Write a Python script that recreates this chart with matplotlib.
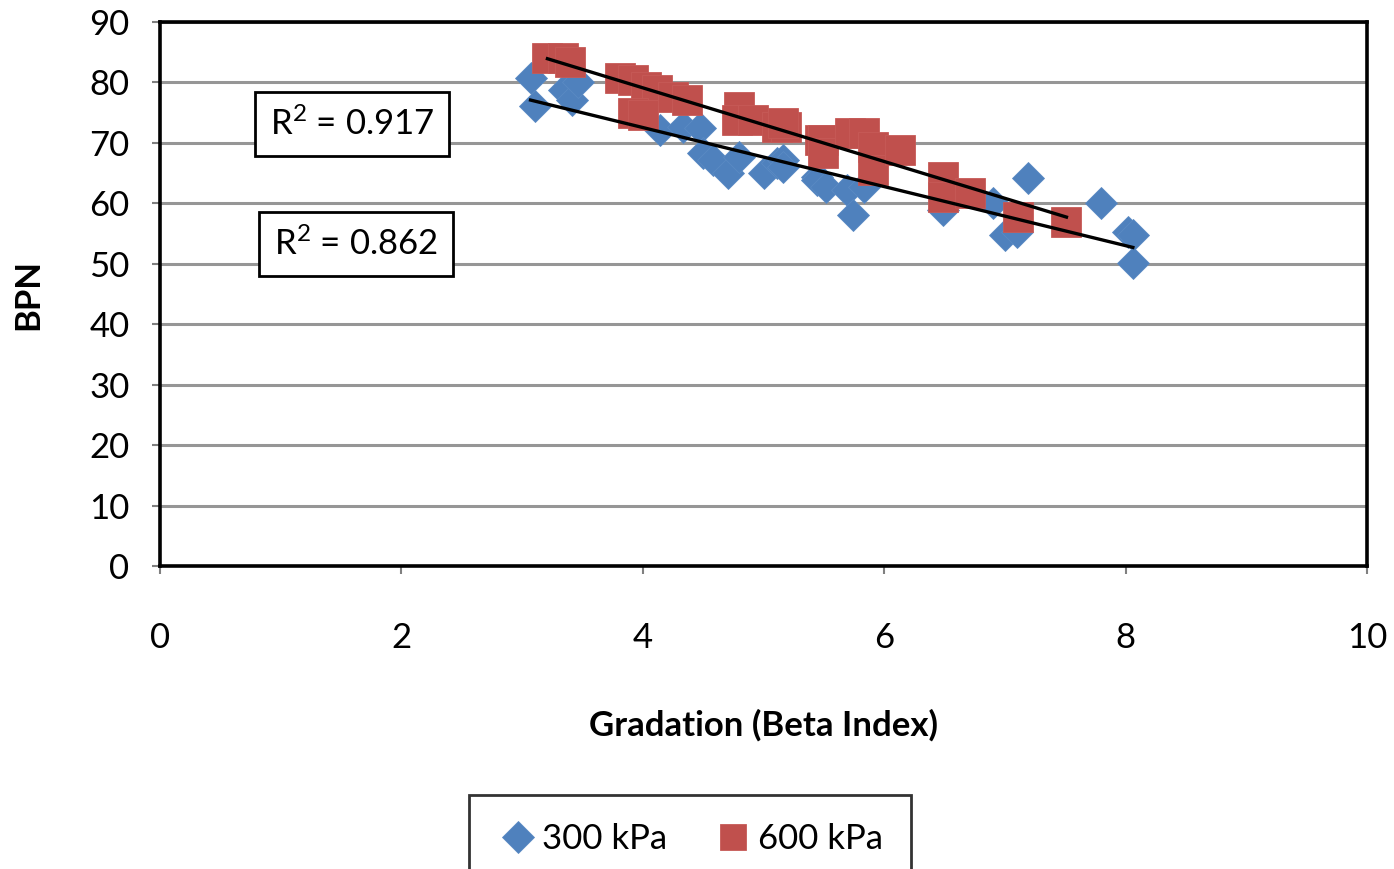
import numpy as np
import matplotlib
matplotlib.use('Agg')
from matplotlib import pyplot as plt

# 300 kPa series (Beta index, BPN)
beta_300 = [3.07, 3.11, 3.35, 3.41, 3.46, 4.14, 4.33, 4.47, 4.50, 4.58, 4.71, 4.80,
            5.00, 5.11, 5.16, 5.44, 5.16, 5.44, 5.52, 5.69, 5.83, 5.74, 6.49, 6.90,
            7.19, 7.00, 7.10, 7.80, 8.02, 8.06, 8.06]
bpn_300 = [80.7, 76.1, 78.8, 77.1, 80.1, 72.1, 72.6, 72.5, 68.3, 67.2, 65.0, 67.7,
           65.0, 66.7, 67.2, 64.4, 66.0, 63.9, 62.7, 62.2, 62.7, 58.1, 58.9, 60.1,
           64.2, 54.8, 55.3, 60.1, 55.3, 54.8, 50.1]

# 600 kPa series
beta_600 = [3.21, 3.34, 3.40, 3.81, 3.92, 4.03, 4.12, 3.92, 4.00, 4.25, 4.37, 4.80,
            4.78, 4.91, 5.11, 5.19, 5.47, 5.16, 5.49, 5.49, 5.72, 5.83, 5.91, 5.91,
            6.13, 6.49, 6.49, 6.71, 7.11, 7.51]
bpn_600 = [84.0, 84.0, 83.4, 80.7, 80.4, 79.3, 78.8, 75.0, 74.6, 77.6, 77.1, 75.9,
           73.8, 73.8, 72.6, 72.6, 70.5, 73.3, 70.5, 68.3, 71.6, 71.6, 69.3, 65.5,
           68.8, 64.4, 61.1, 61.7, 57.7, 56.9]

r2_labels = ['R$^{2}$ = 0.917', 'R$^{2}$ = 0.862']

blue = '#4F81BD'
red = '#C0504D'

plt.rcParams['font.family'] = ['Lato', 'DejaVu Sans']
plt.rcParams['mathtext.fontset'] = 'custom'
plt.rcParams['mathtext.rm'] = 'Lato'
plt.rcParams['mathtext.default'] = 'regular'

fig = plt.figure(figsize=(13.94, 8.69), dpi=100)
ax = fig.add_axes([160/1394, 1 - 566/869, (1367-160)/1394, (566-22)/869])

ax.plot(beta_300, bpn_300, linestyle='none', marker='D', markersize=16,
        color=blue, markeredgecolor='#5a8ac3', markeredgewidth=0.6, label='300 kPa', zorder=3)
ax.plot(beta_600, bpn_600, linestyle='none', marker='s', markersize=21.5,
        color=red, markeredgecolor='#c65a57', markeredgewidth=0.6, label='600 kPa', zorder=4)

# linear trendlines
for xs, ys in [(beta_300, bpn_300), (beta_600, bpn_600)]:
    xs = np.array(xs)
    m, b = np.polyfit(xs, ys, 1)
    xl = np.array([xs.min(), xs.max()])
    ax.plot(xl, m*xl + b, color='black', lw=2.4, zorder=5)

ax.set_xlim(0, 10)
ax.set_ylim(0, 90)
ax.set_xticks(range(0, 11, 2))
ax.set_yticks(range(0, 91, 10))
ax.grid(axis='y', color='#969696', lw=2.2)
ax.set_axisbelow(True)
for s in ax.spines.values():
    s.set_linewidth(2.6)
    s.set_color('black')
ax.tick_params(axis='x', labelsize=25, pad=34, length=6, width=1.5, color='#808080')
ax.tick_params(axis='y', labelsize=25, pad=16, length=6, width=1.5, color='#808080')

ax.set_xlabel('Gradation (Beta Index)', fontsize=25, fontweight='bold', labelpad=40)
ax.set_ylabel('BPN', fontsize=25, fontweight='bold', labelpad=32)

box = dict(boxstyle='square,pad=0.42', facecolor='white', edgecolor='black', lw=2)
ax.text(352/1394, 1 - 124/869, r2_labels[0], transform=fig.transFigure, fontsize=25,
        ha='center', va='center', bbox=box, zorder=6)
ax.text(356/1394, 1 - 244/869, r2_labels[1], transform=fig.transFigure, fontsize=25,
        ha='center', va='center', bbox=box, zorder=6)

leg = fig.legend(loc='upper center', bbox_to_anchor=(690/1394, 1 - 795/869), ncol=2,
                 fontsize=25, frameon=True, fancybox=False, edgecolor='black',
                 handletextpad=0.1, columnspacing=1.3, borderpad=0.8, markerscale=1.0,
                 handlelength=1.2, borderaxespad=0)
leg.get_frame().set_linewidth(2)
leg.legend_handles[1].set_markersize(19)

fig.savefig('out.png', dpi=100)
